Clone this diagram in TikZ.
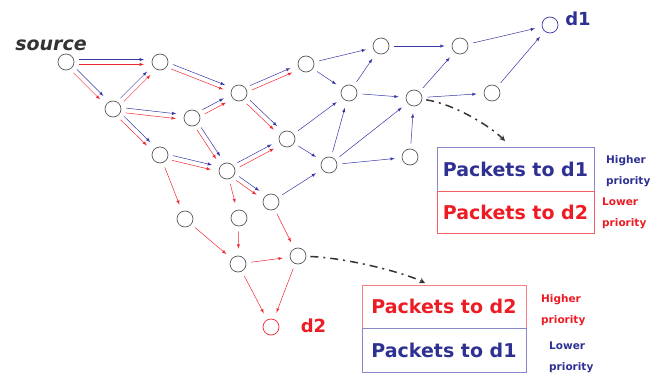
\documentclass[tikz,border=0pt]{standalone}
\usepackage{fontspec}
\setmainfont{DejaVu Sans}
\usetikzlibrary{arrows, calc}

\definecolor{lineblue}{RGB}{55,55,165}
\definecolor{linered}{RGB}{240,40,50}
\definecolor{textblue}{RGB}{46,49,146}
\definecolor{textred}{RGB}{237,28,36}

\tikzstyle{router} = [circle, draw=black!65, line width=0.7pt, minimum size=16pt, inner sep=0pt]
\tikzstyle{bedge} = [draw=lineblue, line width=0.5pt, ->, >=latex]
\tikzstyle{redge} = [draw=linered, line width=0.5pt, ->, >=latex]
\tikzstyle{lane} = [shorten <=13pt, shorten >=16pt]
\tikzstyle{hop} = [shorten <=5pt, shorten >=7pt]
\tikzstyle{queue} = [rectangle, line width=0.7pt, inner sep=0pt, font=\fontsize{19}{19}\selectfont\bfseries]
\tikzstyle{prio} = [align=left, anchor=west, inner sep=0pt, font=\fontsize{10.5}{21}\selectfont\bfseries]
\tikzstyle{flow} = [line width=1.5pt, draw=black!80, dash pattern=on 8pt off 5pt on 2pt off 5pt, shorten <=4pt, ->, >=stealth]

% blue and red lane side by side
\newcommand{\pair}[2]{%
  \draw[bedge, lane] ($(#1)!2.4pt!90:(#2)$) -- ($(#2)!2.4pt!-90:(#1)$);
  \draw[redge, lane] ($(#1)!2.4pt!-90:(#2)$) -- ($(#2)!2.4pt!90:(#1)$);}

\begin{document}
\begin{tikzpicture}[x=1pt, y=-1pt]
\useasboundingbox (0,0) rectangle (663,374);

% routers
\node[router] (src) at (66,62) {};
\node[router] (a) at (160,62) {};
\node[router] (b) at (113,109) {};
\node[router] (c) at (239,93) {};
\node[router] (d) at (192,118) {};
\node[router] (e) at (306,64) {};
\node[router] (f) at (287,139) {};
\node[router] (g) at (160,155) {};
\node[router] (h) at (227,171) {};
\node[router] (i) at (329,165) {};
\node[router] (j) at (271,202) {};
\node[router] (q) at (349,93) {};
\node[router] (r) at (381,46) {};
\node[router] (p) at (414,98) {};
\node[router] (t) at (410,157) {};
\node[router] (u) at (460,46) {};
\node[router] (v) at (492,93) {};
\node[router] (k) at (185,219) {};
\node[router] (l) at (239,218) {};
\node[router] (m) at (238,264) {};
\node[router] (n) at (298,256) {};
\node[router, draw=lineblue] (dst1) at (550,25) {};
\node[router, draw=linered] (dst2) at (271,327) {};

% labels
\node[text=black!80, font=\fontsize{19}{19}\selectfont\bfseries\itshape] (srclabel) at (51,45.5) {source};
\node[text=textblue, font=\fontsize{18}{18}\selectfont\bfseries] (d1label) at (578,19) {d1};
\node[text=textred, font=\fontsize{18}{18}\selectfont\bfseries] (d2label) at (313.5,325.5) {d2};

% shared lanes
\pair{src}{a}
\pair{src}{b}
\pair{b}{a}
\pair{a}{c}
\pair{b}{d}
\pair{b}{g}
\pair{d}{c}
\pair{c}{e}
\pair{c}{f}
\pair{d}{h}
\pair{g}{h}
\pair{h}{f}
\pair{h}{j}

% towards d1
\draw[bedge, hop] (e) -- (r);
\draw[bedge, hop] (e) -- (q);
\draw[bedge, hop] (f) -- (q);
\draw[bedge, hop] (f) -- (i);
\draw[bedge, hop] (j) -- (i);
\draw[bedge, hop] (i) -- (q);
\draw[bedge, hop] (q) -- (r);
\draw[bedge, hop] (q) -- (p);
\draw[bedge, hop] (i) -- (p);
\draw[bedge, hop] (i) -- (t);
\draw[bedge, hop] (t) -- (p);
\draw[bedge, hop] (r) -- (u);
\draw[bedge, hop] (p) -- (u);
\draw[bedge, hop] (p) -- (v);
\draw[bedge, hop] (u) -- (dst1);
\draw[bedge, hop] (v) -- (dst1);

% towards d2
\draw[redge, hop] (g) -- (k);
\draw[redge, hop] (h) -- (l);
\draw[redge, hop] (k) -- (m);
\draw[redge, hop] (l) -- (m);
\draw[redge, hop] (m) -- (n);
\draw[redge, hop] (j) -- (n);
\draw[redge, hop] (m) -- (dst2);
\draw[redge, hop] (n) -- (dst2);

% queue at the d1 side
\node[queue, draw=lineblue!60, text=textblue, minimum width=157pt, minimum height=44pt] (q1hi) at (515.5,169) {Packets to d1};
\node[queue, draw=linered!75, text=textred, minimum width=157pt, minimum height=42pt] (q1lo) at (515.5,212) {Packets to d2};
\node[prio, text=textblue] (q1hitxt) at (606,171) {Higher\\priority};
\node[prio, text=textred] (q1lotxt) at (602,213) {Lower\\priority};
\coordinate (t1) at (505,141);
\draw[flow] (p) .. controls +(40,6) and +(-15,-15) .. (t1);

% queue at the d2 side
\node[queue, draw=linered!60, text=textred, minimum width=164pt, minimum height=43pt] (q2hi) at (444,306.5) {Packets to d2};
\node[queue, draw=lineblue!60, text=textblue, minimum width=164pt, minimum height=44pt] (q2lo) at (444,350) {Packets to d1};
\node[prio, text=textred] (q2hitxt) at (541,310) {Higher\\priority};
\node[prio, text=textblue] (q2lotxt) at (549,357) {Lower\\priority};
\coordinate (t2) at (425,283);
\draw[flow] (n) .. controls +(50,2) and +(-20,-10) .. (t2);

\end{tikzpicture}
\end{document}
